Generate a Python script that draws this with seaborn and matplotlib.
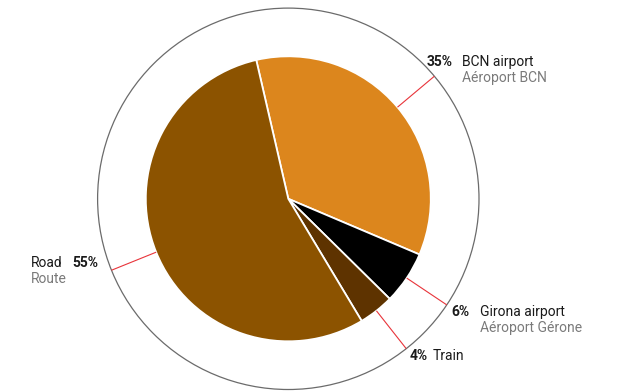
import numpy as np
import matplotlib
matplotlib.use("Agg")
import matplotlib.pyplot as plt
from matplotlib.patches import Circle
import seaborn as sns

# Access modes to the area (share of trips, %)
modes_en = ["BCN airport", "Girona airport", "Train", "Road"]
modes_fr = ["Aéroport BCN", "Aéroport Gérone", "", "Route"]
shares = [35, 6, 4, 55]
colors = ["#DC861D", "#000000", "#5E3300", "#8C5300"]

sns.set_style("white")
plt.rcParams["font.family"] = ["Roboto", "DejaVu Sans"]

W, H = 618, 391
fig = plt.figure(figsize=(W / 100, H / 100), dpi=100)
ax = fig.add_axes([0, 0, 1, 1])

cx, cy = 288.3, H - 198.8
r_pie, r_ring = 142.5, 190.7
start = 103

wedges, _ = ax.pie(
    shares, colors=colors, startangle=start, counterclock=False,
    radius=r_pie, center=(cx, cy), frame=True,
    wedgeprops=dict(edgecolor="white", linewidth=1.3),
)
ax.add_patch(Circle((cx, cy), r_ring, fill=False, ec="#6b6b6b", lw=0.9))

# red leader lines at the middle of each slice
for w in wedges:
    mid = np.deg2rad((w.theta1 + w.theta2) / 2)
    ax.plot([cx + r_pie * np.cos(mid), cx + r_ring * np.cos(mid)],
            [cy + r_pie * np.sin(mid), cy + r_ring * np.sin(mid)],
            color="#e8343a", lw=0.8, solid_capstyle="butt")

fs = 10
dark, grey = "#1a1a1a", "#7a7a7a"

def label(xp, xn, y, i):
    ax.text(xp, H - y, f"{shares[i]}%", fontsize=fs, fontweight="bold",
            color=dark, va="center")
    ax.text(xn, H - y, modes_en[i], fontsize=fs, color=dark, va="center")
    if modes_fr[i]:
        ax.text(xn, H - y - 16, modes_fr[i], fontsize=fs, color=grey, va="center")

label(427, 462.5, 61.7, 0)
label(451, 480, 311.7, 1)
label(410, 433, 356, 2)
label(72, 31, 263.3, 3)

ax.set_xlim(0, W)
ax.set_ylim(0, H)
ax.set_aspect("equal")
ax.axis("off")
fig.savefig("out.png", dpi=100)
